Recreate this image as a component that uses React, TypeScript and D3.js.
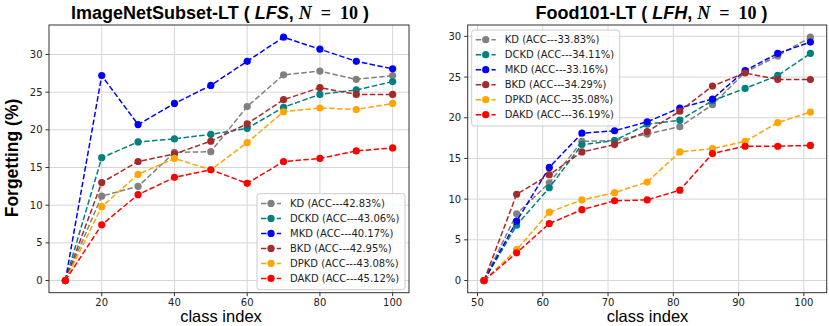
import React, { useEffect, useRef } from "react";
import * as d3 from "d3";

const methods = ["KD", "DCKD", "MKD", "BKD", "DPKD", "DAKD"];
const methodColors = ["#808080", "#008080", "#0000ff", "#a52a2a", "#ffa500", "#ff0000"];

// ImageNetSubset-LT ( LFS, N = 10 )
const inClasses = [10, 20, 30, 40, 50, 60, 70, 80, 90, 100];
const inKD = [0, 11.2, 12.5, 17.0, 17.1, 23.1, 27.3, 27.8, 26.7, 27.2];
const inDCKD = [0, 16.3, 18.4, 18.8, 19.4, 20.2, 23.0, 24.7, 25.3, 26.4];
const inMKD = [0, 27.2, 20.7, 23.5, 25.9, 29.1, 32.3, 30.7, 29.1, 28.1];
const inBKD = [0, 13.0, 15.8, 16.8, 18.5, 20.8, 24.0, 25.6, 24.7, 24.7];
const inDPKD = [0, 9.8, 14.1, 16.2, 14.7, 18.3, 22.4, 22.9, 22.7, 23.5];
const inDAKD = [0, 7.4, 11.4, 13.7, 14.7, 12.9, 15.8, 16.2, 17.2, 17.6];
const inAcc = ["42.83", "43.06", "40.17", "42.95", "43.08", "45.12"];
const inXTicks = [20, 40, 60, 80, 100];

// Food101-LT ( LFH, N = 10 )
const fdClasses = [51, 56, 61, 66, 71, 76, 81, 86, 91, 96, 101];
const fdKD = [0, 8.2, 12.0, 17.1, 17.2, 18.0, 18.9, 21.6, 25.6, 27.6, 29.9];
const fdDCKD = [0, 6.8, 11.4, 16.7, 17.2, 19.2, 19.7, 22.1, 23.6, 25.2, 27.9];
const fdMKD = [0, 7.3, 13.9, 18.1, 18.4, 19.5, 21.2, 22.3, 25.8, 27.9, 29.3];
const fdBKD = [0, 10.6, 13.0, 15.8, 16.7, 18.3, 20.8, 23.9, 25.5, 24.7, 24.7];
const fdDPKD = [0, 3.8, 8.4, 9.9, 10.8, 12.1, 15.8, 16.2, 17.1, 19.4, 20.7];
const fdDAKD = [0, 3.4, 7.0, 8.7, 9.8, 9.9, 11.1, 15.6, 16.5, 16.5, 16.6];
const fdAcc = ["33.83", "34.11", "33.16", "34.29", "35.08", "36.19"];
const fdXTicks = [50, 60, 70, 80, 90, 100];

const yTicks = [0, 5, 10, 15, 20, 25, 30];

const W = 829;
const H = 326;
const TICK_FONT = "DejaVu Sans, sans-serif";
const LABEL_FONT = "Liberation Sans, Arial, sans-serif";

const panels = [
   {
      name: "ImageNetSubset-LT",
      tag: "LFS",
      classes: inClasses,
      series: [inKD, inDCKD, inMKD, inBKD, inDPKD, inDAKD],
      acc: inAcc,
      xTicks: inXTicks,
      left: 49,
      right: 409,
      titleX: 220,
      xlabelX: 221,
      legendAt: "lower right",
   },
   {
      name: "Food101-LT",
      tag: "LFH",
      classes: fdClasses,
      series: [fdKD, fdDCKD, fdMKD, fdBKD, fdDPKD, fdDAKD],
      acc: fdAcc,
      xTicks: fdXTicks,
      left: 467.7,
      right: 826.7,
      titleX: 651.5,
      xlabelX: 647.5,
      legendAt: "upper left",
   },
];

const TOP = 25;
const BOTTOM = 292.7;

function drawPanel(svg, p) {
   // matplotlib style 5% margins
   const [x0, x1] = d3.extent(p.classes);
   const xPad = (x1 - x0) * 0.05;
   const [y0, y1] = d3.extent(p.series.flat());
   const yPad = (y1 - y0) * 0.05;

   const x = d3.scaleLinear().domain([x0 - xPad, x1 + xPad]).range([p.left, p.right]);
   const y = d3.scaleLinear().domain([y0 - yPad, y1 + yPad]).range([BOTTOM, TOP]);

   const g = svg.append("g");

   // grid
   g.selectAll(".gx")
      .data(p.xTicks)
      .join("line")
      .attr("x1", (d) => x(d))
      .attr("x2", (d) => x(d))
      .attr("y1", TOP)
      .attr("y2", BOTTOM)
      .attr("stroke", "#d6d6d6")
      .attr("stroke-width", 1);
   g.selectAll(".gy")
      .data(yTicks)
      .join("line")
      .attr("x1", p.left)
      .attr("x2", p.right)
      .attr("y1", (d) => y(d))
      .attr("y2", (d) => y(d))
      .attr("stroke", "#d6d6d6")
      .attr("stroke-width", 1);

   // series
   const line = d3
      .line()
      .x((d) => x(d[0]))
      .y((d) => y(d[1]));

   p.series.forEach((vals, i) => {
      const pts = vals.map((v, j) => [p.classes[j], v]);
      g.append("path")
         .datum(pts)
         .attr("d", line)
         .attr("fill", "none")
         .attr("stroke", methodColors[i])
         .attr("stroke-width", 1.5)
         .attr("stroke-dasharray", "5.5,2.4");
      g.selectAll(null)
         .data(pts)
         .join("circle")
         .attr("cx", (d) => x(d[0]))
         .attr("cy", (d) => y(d[1]))
         .attr("r", 3.6)
         .attr("fill", methodColors[i]);
   });

   // frame
   g.append("rect")
      .attr("x", p.left)
      .attr("y", TOP)
      .attr("width", p.right - p.left)
      .attr("height", BOTTOM - TOP)
      .attr("fill", "none")
      .attr("stroke", "#333")
      .attr("stroke-width", 1);

   // ticks
   g.selectAll(".tx")
      .data(p.xTicks)
      .join("line")
      .attr("x1", (d) => x(d))
      .attr("x2", (d) => x(d))
      .attr("y1", BOTTOM)
      .attr("y2", BOTTOM + 3.5)
      .attr("stroke", "#333");
   g.selectAll(".txl")
      .data(p.xTicks)
      .join("text")
      .attr("x", (d) => x(d))
      .attr("y", BOTTOM + 13)
      .attr("text-anchor", "middle")
      .attr("font-family", TICK_FONT)
      .attr("font-size", 10)
      .attr("fill", "#222")
      .text((d) => d);
   g.selectAll(".ty")
      .data(yTicks)
      .join("line")
      .attr("x1", p.left - 3.5)
      .attr("x2", p.left)
      .attr("y1", (d) => y(d))
      .attr("y2", (d) => y(d))
      .attr("stroke", "#333");
   g.selectAll(".tyl")
      .data(yTicks)
      .join("text")
      .attr("x", p.left - 6.5)
      .attr("y", (d) => y(d))
      .attr("dy", "0.35em")
      .attr("text-anchor", "end")
      .attr("font-family", TICK_FONT)
      .attr("font-size", 10)
      .attr("fill", "#222")
      .text((d) => d);

   // title
   const t = g
      .append("text")
      .attr("x", p.titleX)
      .attr("y", 18.5)
      .attr("text-anchor", "middle")
      .attr("font-family", LABEL_FONT)
      .attr("font-weight", "bold")
      .attr("font-size", 18);
   t.append("tspan").text(`${p.name} ( `);
   t.append("tspan").attr("font-style", "italic").text(p.tag);
   t.append("tspan").text(", ");
   t.append("tspan")
      .attr("font-family", "Liberation Serif, serif")
      .attr("font-style", "italic")
      .text("N");
   t.append("tspan")
      .attr("font-family", "Liberation Serif, serif")
      .text("\u2002=\u200210");
   t.append("tspan").text(" )");

   // x label
   g.append("text")
      .attr("x", p.xlabelX)
      .attr("y", 322.3)
      .attr("text-anchor", "middle")
      .attr("font-family", LABEL_FONT)
      .attr("font-size", 16.5)
      .attr("fill", "#000")
      .text("class index");

   // legend
   const lw = 148;
   const lh = 96;
   const lx = p.legendAt === "lower right" ? p.right - 4 - lw : p.left + 4;
   const ly = p.legendAt === "lower right" ? BOTTOM - 3 - lh : TOP + 5;
   const leg = g.append("g").attr("transform", `translate(${lx},${ly})`);
   leg.append("rect")
      .attr("width", lw)
      .attr("height", lh)
      .attr("rx", 2.5)
      .attr("fill", "white")
      .attr("fill-opacity", 0.8)
      .attr("stroke", "#cccccc")
      .attr("stroke-width", 1);
   const rows = leg
      .selectAll("g.row")
      .data(methods)
      .join("g")
      .attr("transform", (d, i) => `translate(0,${9.7 + i * 15})`);
   rows.append("line")
      .attr("x1", 4)
      .attr("x2", 24)
      .attr("stroke", (d, i) => methodColors[i])
      .attr("stroke-width", 1.5)
      .attr("stroke-dasharray", "5.5,2.4");
   rows.append("circle")
      .attr("cx", 14)
      .attr("r", 3.6)
      .attr("fill", (d, i) => methodColors[i]);
   rows.append("text")
      .attr("x", 33)
      .attr("dy", "0.35em")
      .attr("font-family", TICK_FONT)
      .attr("font-size", 10)
      .attr("fill", "#222")
      .text((d, i) => `${d} (ACC---${p.acc[i]}%)`);
}

const App = () => {
   const svgRef = useRef(null);

   useEffect(() => {
      const svg = d3.select(svgRef.current);
      svg.selectAll("*").remove();

      panels.forEach((p) => drawPanel(svg, p));

      // shared y label
      svg.append("text")
         .attr("transform", "translate(18,158) rotate(-90)")
         .attr("text-anchor", "middle")
         .attr("font-family", LABEL_FONT)
         .attr("font-weight", "bold")
         .attr("font-size", 17.5)
         .attr("fill", "#000")
         .text("Forgetting (%)");
   }, []);

   return (
      <svg
         ref={svgRef}
         width={W}
         height={H}
         style={{ position: "absolute", left: 0, top: 0, background: "white" }}
      ></svg>
   );
};

export default App;
